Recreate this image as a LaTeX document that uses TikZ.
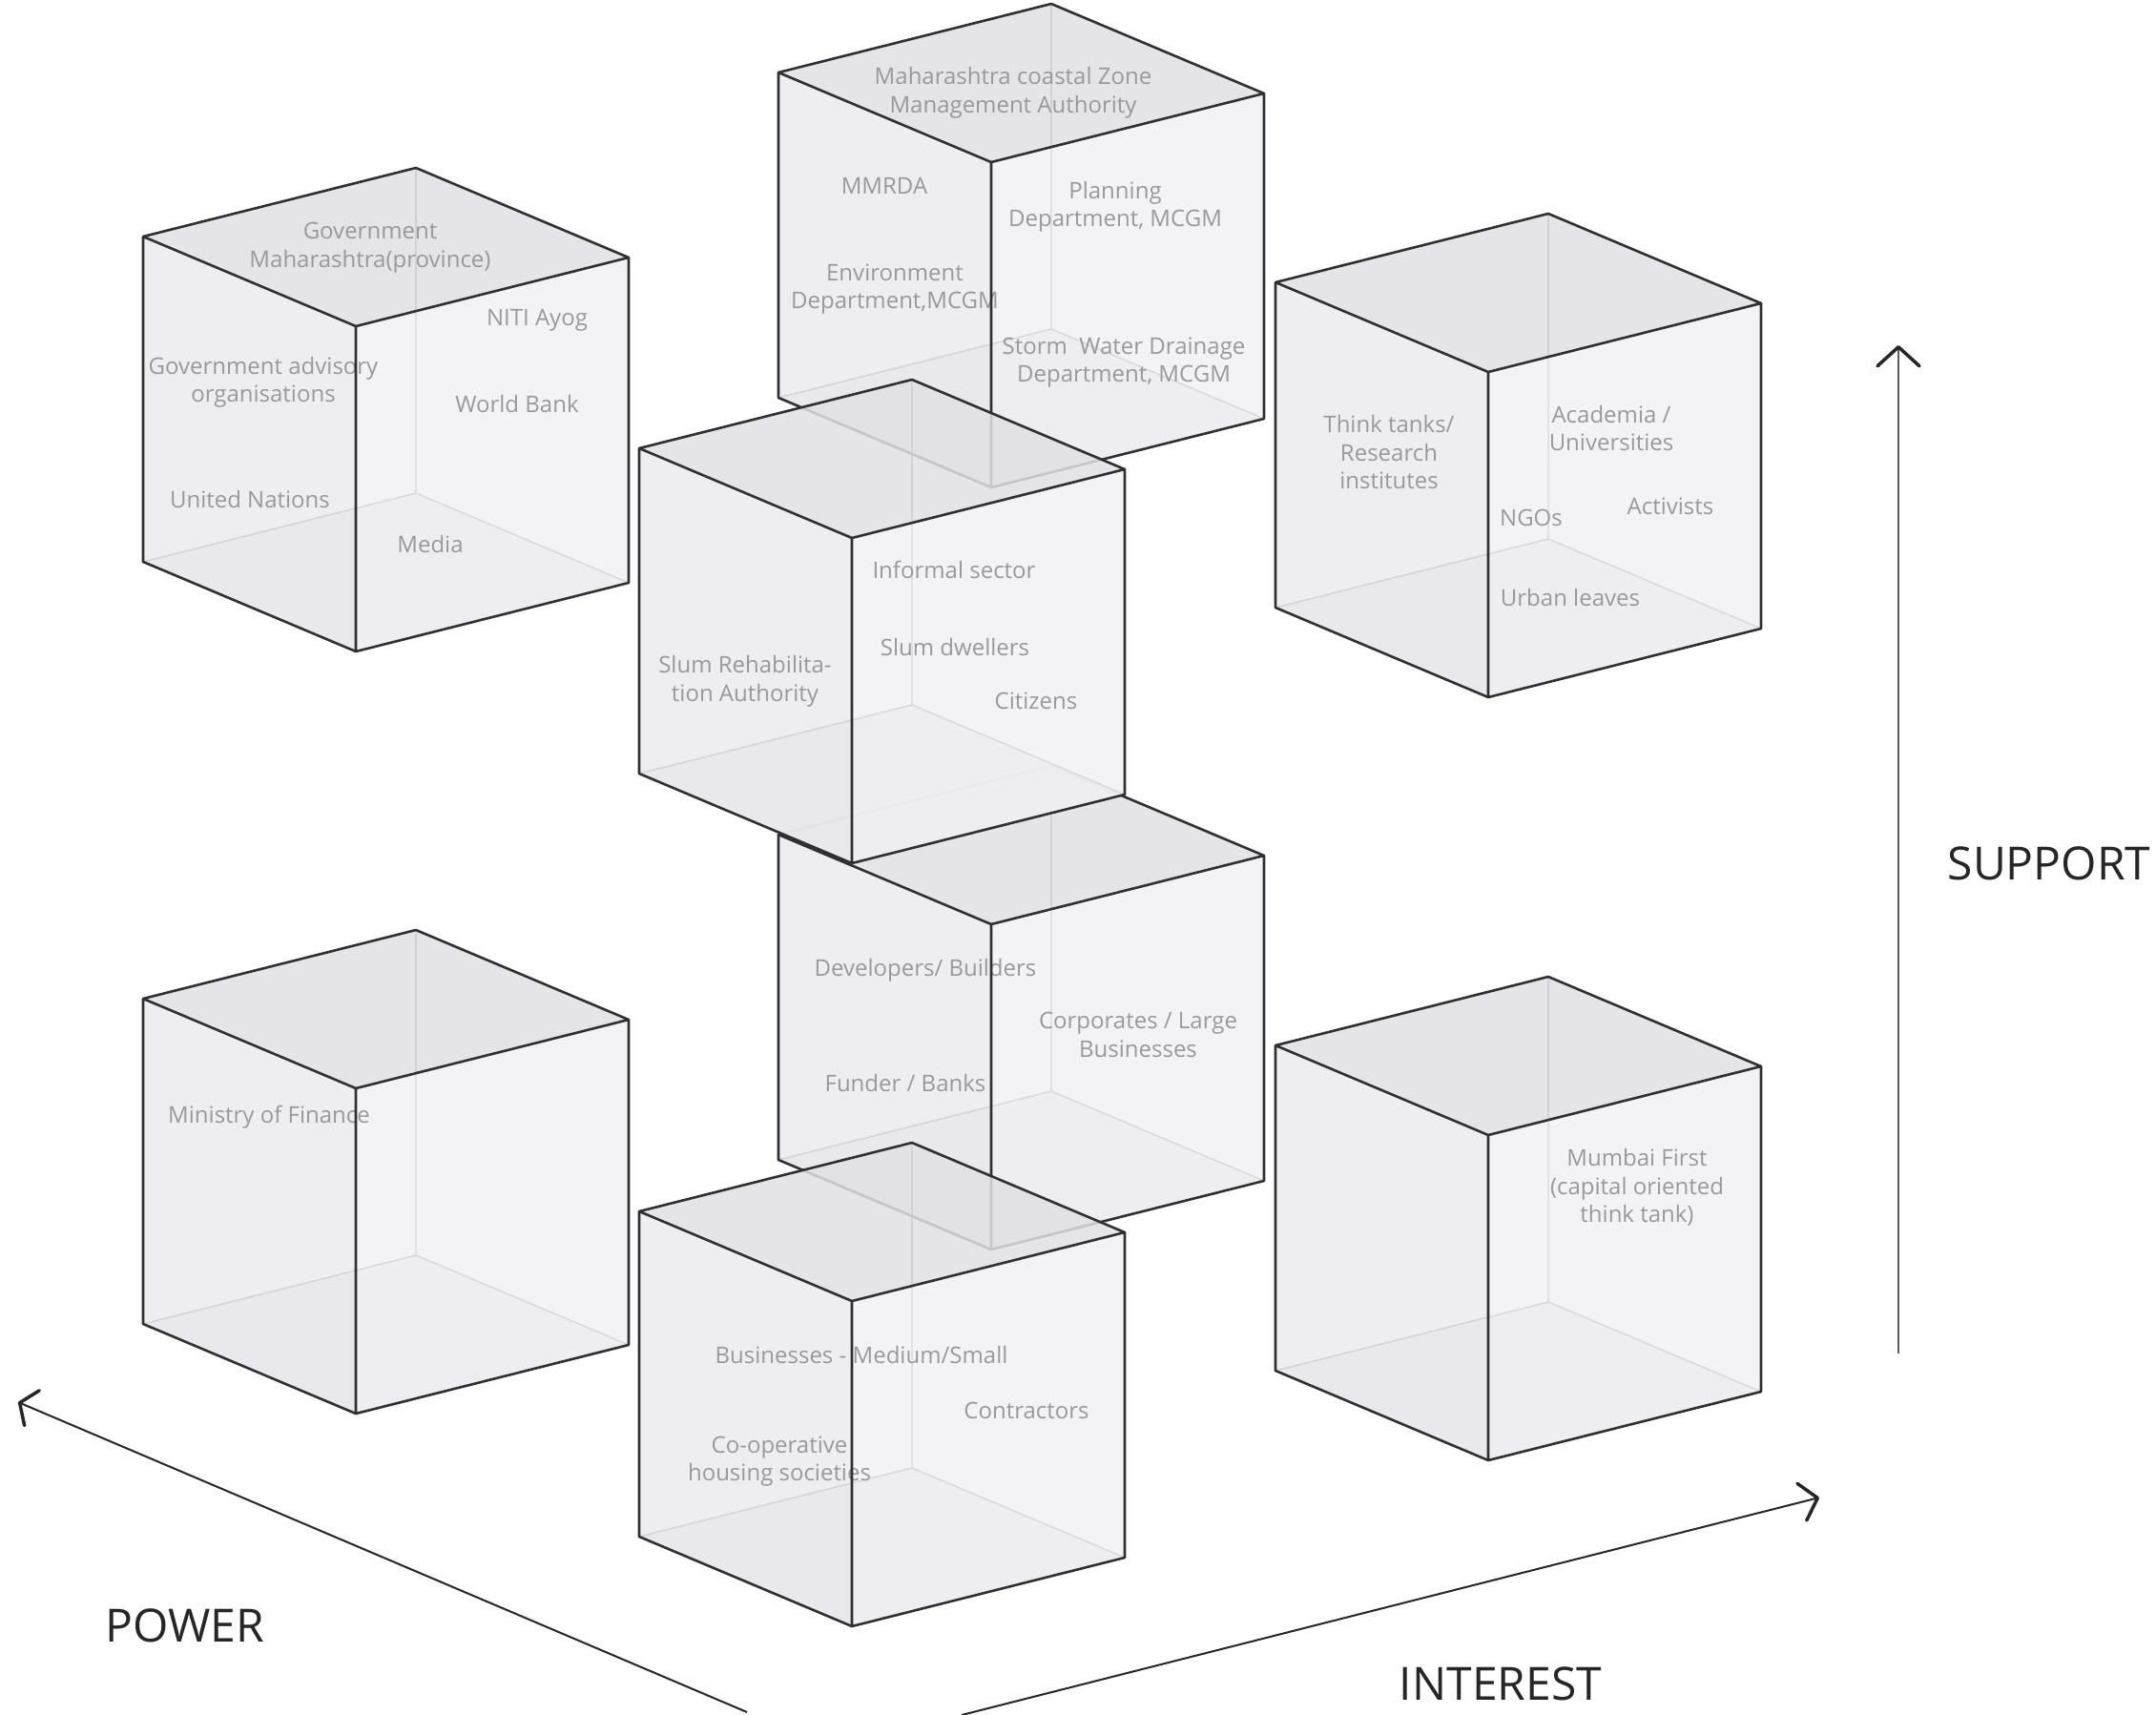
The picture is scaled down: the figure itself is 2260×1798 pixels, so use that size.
\documentclass[tikz,border=0pt]{standalone}
\usepackage{fontspec}
\setmainfont{Open Sans}
\usetikzlibrary{arrows.meta}
\definecolor{edgec}{RGB}{48,48,50}
\definecolor{hidc}{RGB}{70,70,74}
\definecolor{topc}{RGB}{224,224,229}
\definecolor{leftc}{RGB}{235,235,240}
\definecolor{rightc}{RGB}{241,241,246}
\definecolor{botc}{RGB}{214,214,219}
\definecolor{labc}{RGB}{152,152,158}
\definecolor{axisc}{RGB}{38,38,38}
\begin{document}
\begin{tikzpicture}[x=1pt,y=-1pt,
  face/.style={fill opacity=0.85},
  hid/.style={draw=hidc, line width=1.4pt},
  edge/.style={draw=edgec, line width=2.6pt, line join=round, line cap=round},
  lab/.style={text=labc, font=\fontsize{24}{29.5}\selectfont, align=center, inner sep=0pt},
  axlab/.style={text=axisc, font=\fontsize{48}{56}\selectfont, inner sep=0pt},
  axisline/.style={draw=axisc, line width=2pt},
  cubefaces/.pic={
    \fill[face, fill=botc] (0,341) -- (-223,247) -- (63,175) -- (286,269) -- cycle;
    \draw[hid] (63,-166) -- (63,175) (-223,247) -- (63,175) -- (286,269);
    \fill[face, fill=leftc] (0,0) -- (-223,-94) -- (-223,247) -- (0,341) -- cycle;
    \fill[face, fill=rightc] (0,0) -- (286,-72) -- (286,269) -- (0,341) -- cycle;
    \fill[face, fill=topc] (0,0) -- (-223,-94) -- (63,-166) -- (286,-72) -- cycle;
  },
  cubeedges/.pic={
    \draw[edge] (-223,-94) -- (63,-166) -- (286,-72) -- (286,269) -- (0,341) -- (-223,247) -- cycle
       (-223,-94) -- (0,0) -- (286,-72) (0,0) -- (0,341);
  }
]
\useasboundingbox (0,0) rectangle (2260,1798);

% ---------- cube 1: Government ----------
\pic (c1f) at (373,342) {cubefaces};
\node[lab] (gov) at (388,259.5) {Government\\Maharashtra(province)};
\node[lab] (niti) at (563,336) {NITI Ayog};
\node[lab] (gadv) at (276,401) {Government advisory\\organisations};
\node[lab] (wb) at (542,423) {World Bank};
\node[lab] (un) at (262,523) {United Nations};
\node[lab] (media) at (451,570) {Media};
\pic (c1e) at (373,342) {cubeedges};

% ---------- cube 6: Ministry ----------
\pic (c6f) at (373,1141) {cubefaces};
\node[lab] (mof) at (282,1171) {Ministry of Finance};
\pic (c6e) at (373,1141) {cubeedges};

% ---------- cube 3: Think tanks ----------
\pic (c3f) at (1560,390) {cubefaces};
\node[lab] (think) at (1456,474) {Think tanks/\\Research\\institutes};
\node[lab] (acad) at (1689,449) {Academia /\\Universities};
\node[lab] (act) at (1751,531) {Activists};
\node[lab] (ngo) at (1605,543) {NGOs};
\node[lab] (urban) at (1646,626) {Urban leaves};
\pic (c3e) at (1560,390) {cubeedges};

% ---------- cube 7: Mumbai First ----------
\pic (c7f) at (1560,1190) {cubefaces};
\node[lab] (mumbai) at (1716,1245) {Mumbai First\\(capital oriented\\think tank)};
\pic (c7e) at (1560,1190) {cubeedges};

% ---------- cube 2: Coastal zone ----------
\pic (c2f) at (1039,170) {cubefaces};
\node[lab] (mczma) at (1062,97.5) {Maharashtra coastal Zone\\Management Authority};
\node[lab] (mmrda) at (927,195) {MMRDA};
\node[lab] (plan) at (1169,217) {Planning\\Department, MCGM};
\node[lab] (env) at (938,303) {Environment\\Department,MCGM};
\node[lab] (storm) at (1178,380) {Storm\ \ Water Drainage\\Department, MCGM};
\pic (c2e) at (1039,170) {cubeedges};

% ---------- cube 5: Developers ----------
\pic (c5f) at (1039,969) {cubefaces};
\node[lab] (dev) at (970,1017) {Developers/ Builders};
\node[lab] (corp) at (1193,1085) {Corporates / Large\\Businesses};
\node[lab] (fund) at (949,1135) {Funder / Banks};
\pic (c5e) at (1039,969) {cubeedges};

% ---------- cube 4: Slum ----------
\pic (c4f) at (893,564) {cubefaces};
\node[lab] (inf) at (1000,597) {Informal sector};
\node[lab] (slumd) at (1001,678) {Slum dwellers};
\node[lab] (sra) at (781,714.5) {Slum Rehabilita-\\tion Authority};
\node[lab] (cit) at (1086,735) {Citizens};
\pic (c4e) at (893,564) {cubeedges};

% ---------- cube 8: Businesses ----------
\pic (c8f) at (893,1364) {cubefaces};
\node[lab] (bms) at (903,1420) {Businesses - Medium/Small};
\node[lab] (contr) at (1076,1479) {Contractors};
\node[lab] (coop) at (817,1532) {Co-operative\\housing societies};
\pic (c8e) at (893,1364) {cubeedges};

% ---------- axes ----------
\coordinate (powtail) at (783,1795);
\coordinate (powhead) at (19,1470);
\coordinate (inttail) at (1008,1798);
\coordinate (inthead) at (1907,1570);
\coordinate (suptail) at (1990,1419);
\coordinate (suphead) at (1990,362);
\draw[axisline, -{Straight Barb[length=14pt,width=40pt,line width=3.5pt,round]}] (powtail) -- (powhead);
\draw[axisline, -{Straight Barb[length=17pt,width=40pt,line width=3.5pt,round]}] (inttail) -- (inthead);
\draw[axisline, draw=axisc!75, -{Straight Barb[length=20pt,width=44pt,line width=3.5pt,round,color=axisc]}] (suptail) -- (suphead);
\node[axlab] (power) at (194,1704) {POWER};
\node[axlab] (interest) at (1573,1765) {INTEREST};
\node[axlab] (support) at (2148,905) {SUPPORT};
\end{tikzpicture}
\end{document}
